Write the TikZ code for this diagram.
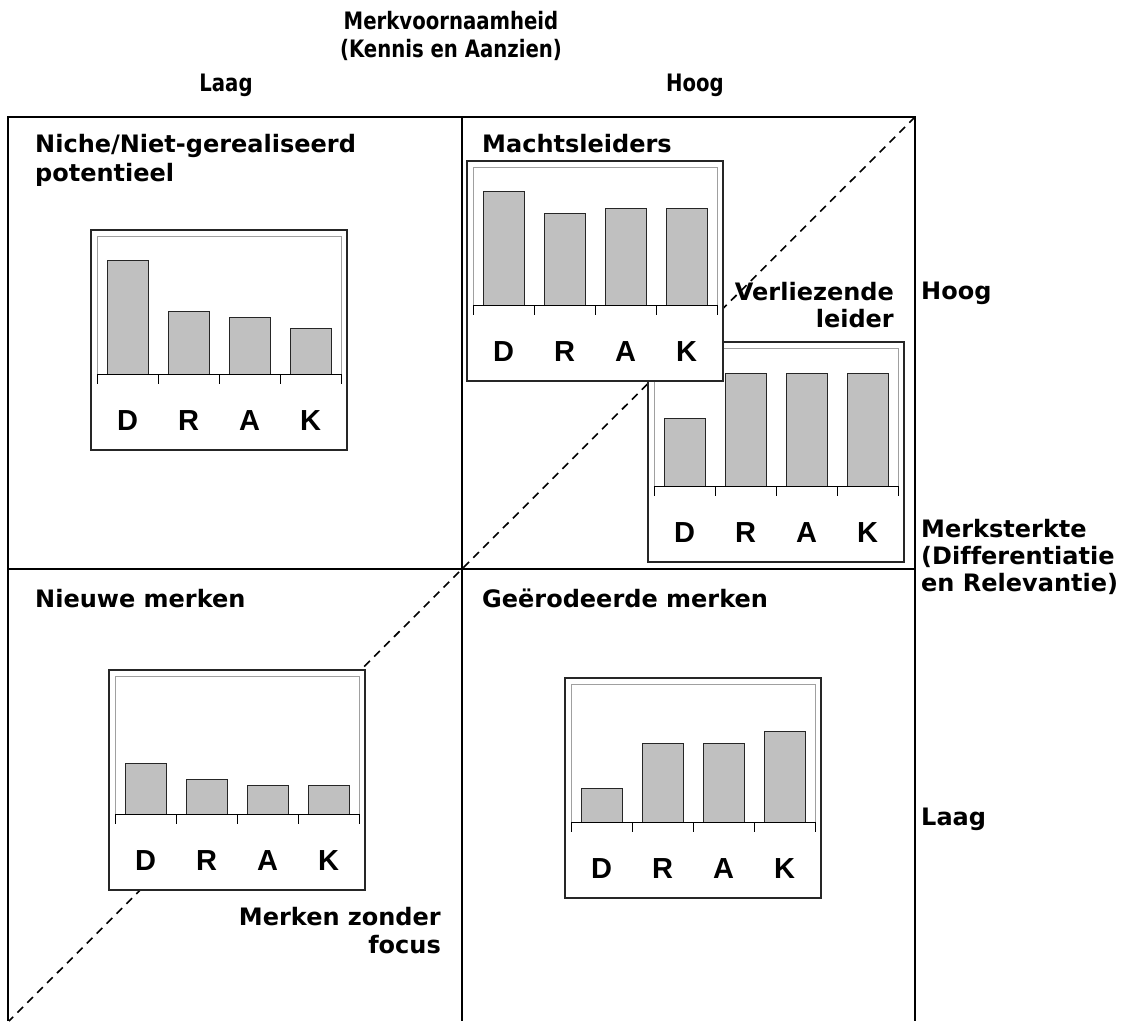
\documentclass[tikz,border=0pt]{standalone}
\usepackage{fontspec}
\setmainfont{DejaVu Sans}[Ligatures=NoCommon]
\newfontfamily\drakfont{Liberation Sans}
\definecolor{barfill}{HTML}{C0C0C0}
\definecolor{framegray}{HTML}{A0A0A0}

% One small bar chart: name, left, top, then the four bar heights (D, R, A, K)
\newcommand{\drakchart}[7]{%
  \begin{scope}[shift={(#2,#3)}]
    \draw[chartbox] (0,0) rectangle (256,220);
    \draw[innerframe] (6,144) -- (6,6) -- (250,6) -- (250,144);
    \foreach \h [count=\i from 0] in {#4,#5,#6,#7}
      \draw[bar] ({16+61*\i},144) rectangle ++(41,-\h);
    \draw[axisline] (6,144) -- (250,144);
    \foreach \t in {6,67,128,189,250}
      \draw[axisline] (\t,144) -- (\t,154);
    \foreach \l [count=\i from 0] in {D,R,A,K}
      \node[drak] (#1-\l) at ({36.5+61*\i},200) {\l};
  \end{scope}}

% narrow setting used for the column headings
\newcommand{\narrowtext}[1]{\scalebox{0.82}[1]{#1}}

\begin{document}
\begin{tikzpicture}[x=1pt,y=-1pt,
  grid/.style={line width=1.8pt,black},
  diag/.style={line width=1.6pt,black,dash pattern=on 8pt off 6pt},
  chartbox/.style={line width=1.6pt,draw=black!85,fill=white},
  innerframe/.style={line width=1pt,framegray},
  bar/.style={line width=1pt,draw=black!85,fill=barfill},
  axisline/.style={line width=1pt,black},
  drak/.style={anchor=base,inner sep=0pt,font=\drakfont\bfseries\fontsize{29}{29}\selectfont},
  lbl/.style={inner sep=0pt,font=\bfseries\fontsize{24}{24}\selectfont},
  head/.style={inner sep=0pt,anchor=base,font=\bfseries\fontsize{24}{24}\selectfont}]
\useasboundingbox (0,0) rectangle (1126,1021);

% quadrant grid
\coordinate (tl) at (8,117);
\coordinate (tm) at (462,117);
\coordinate (tr) at (915,117);
\coordinate (bl) at (8,1021);
\coordinate (bm) at (462,1021);
\coordinate (br) at (915,1021);
\coordinate (ml) at (8,569);
\coordinate (mr) at (915,569);
\draw[grid] (bl) -- (tl) -- (tr) -- (br);
\draw[grid] (tm) -- (bm);
\draw[grid] (ml) -- (mr);

% diagonal
\coordinate (dstart) at (915,117);
\coordinate (dend) at (9,1021);
\draw[diag] (dstart) -- (dend);

% charts
\drakchart{niche}{91}{230}{114}{63}{57}{46}
\drakchart{verlies}{648}{342}{68}{113}{113}{113}
\drakchart{macht}{467}{161}{114}{92}{97}{97}
\drakchart{nieuw}{109}{670}{51}{35}{29}{29}
\drakchart{erodeer}{565}{678}{34}{79}{79}{91}

% axis titles
\node[head] (xtitle1) at (451,29) {\narrowtext{Merkvoornaamheid}};
\node[head] (xtitle2) at (451,57) {\narrowtext{(Kennis en Aanzien)}};
\node[head] (xlow) at (226,91) {\narrowtext{Laag}};
\node[head] (xhigh) at (695,91) {\narrowtext{Hoog}};

\node[lbl,anchor=base west] (yhigh) at (921,299) {Hoog};
\node[lbl,anchor=base west] (ytitle1) at (921,537) {Merksterkte};
\node[lbl,anchor=base west] (ytitle2) at (921,564) {(Differentiatie};
\node[lbl,anchor=base west] (ytitle3) at (921,591) {en Relevantie)};
\node[lbl,anchor=base west] (ylow) at (921,825) {Laag};

% quadrant titles
\node[lbl,anchor=base west] (q1a) at (35,152) {Niche/Niet-gerealiseerd};
\node[lbl,anchor=base west] (q1b) at (35,181) {potentieel};
\node[lbl,anchor=base west] (q2) at (482,152) {Machtsleiders};
\node[lbl,anchor=base west] (q3) at (35,607) {Nieuwe merken};
\node[lbl,anchor=base west] (q4) at (482,607) {Geërodeerde merken};

% diagonal labels
\node[lbl,anchor=base east] (v1) at (894,300) {Verliezende};
\node[lbl,anchor=base east] (v2) at (894,327) {leider};
\node[lbl,anchor=base east] (z1) at (441,925) {Merken zonder};
\node[lbl,anchor=base east] (z2) at (441,953) {focus};
\end{tikzpicture}
\end{document}
